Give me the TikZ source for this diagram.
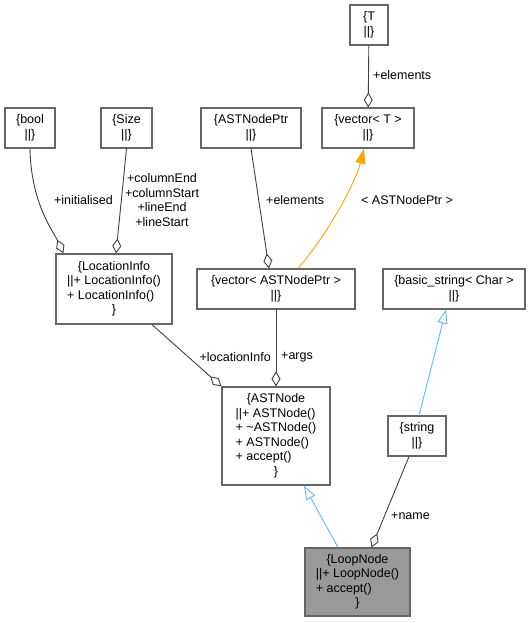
\documentclass[tikz,border=0pt]{standalone}
\usepackage{fontspec}
\setmainfont{Liberation Sans}
\usetikzlibrary{arrows.meta,calc}
\definecolor{boxgray}{HTML}{666666}
\definecolor{edgegray}{HTML}{404040}
\definecolor{inhblue}{HTML}{63B8FF}
\definecolor{tmplorange}{HTML}{FFA500}
\definecolor{mainfill}{HTML}{999999}
\begin{document}
\begin{tikzpicture}[x=1pt,y=-1pt,
  every node/.style={font=\fontsize{12.5}{14.5}\selectfont},
  classbox/.style={draw=boxgray, line width=1.2pt, fill=white, inner sep=0pt, align=center},
  mainbox/.style={classbox, fill=mainfill},
  assoc/.style={draw=edgegray, line width=0.9pt, -{Diamond[fill=white, length=15pt, width=9pt, line width=0.9pt]}},
  inherit/.style={draw=inhblue, line width=0.9pt, -{Triangle[fill=white, length=14pt, width=10pt, line width=0.9pt]}},
  tmpl/.style={draw=tmplorange, line width=0.9pt, -{Triangle[fill=tmplorange, length=15pt, width=10pt]}},
  elabel/.style={inner sep=0pt, text=black}]
\useasboundingbox (0,0) rectangle (531,623);

% class boxes
\node[classbox, minimum width=38pt, minimum height=40pt] (T) at (369,25)
  {\begin{tabular}{@{}c@{}}\{T\\||\}\end{tabular}};
\node[classbox, minimum width=92pt, minimum height=40pt] (vecT) at (368,128)
  {\begin{tabular}{@{}c@{}}\{vector< T >\\||\}\end{tabular}};
\node[classbox, minimum width=50pt, minimum height=40pt] (bool) at (30,128)
  {\begin{tabular}{@{}c@{}}\{bool\\||\}\end{tabular}};
\node[classbox, minimum width=51pt, minimum height=40pt] (size) at (126.5,128)
  {\begin{tabular}{@{}c@{}}\{Size\\||\}\end{tabular}};
\node[classbox, minimum width=100pt, minimum height=40pt] (astptr) at (251,128)
  {\begin{tabular}{@{}c@{}}\{ASTNodePtr\\||\}\end{tabular}};
\node[classbox, minimum width=116pt, minimum height=70pt] (loc) at (114,289)
  {\begin{tabular}{@{}l@{}}\multicolumn{1}{@{}c@{}}{\{LocationInfo}\\||+ LocationInfo()\\+ LocationInfo()\\\multicolumn{1}{@{}c@{}}{\}}\end{tabular}};
\node[classbox, minimum width=158pt, minimum height=40pt] (vecast) at (276,289)
  {\begin{tabular}{@{}c@{}}\{vector< ASTNodePtr >\\||\}\end{tabular}};
\node[classbox, minimum width=142pt, minimum height=40pt] (bstr) at (454,289)
  {\begin{tabular}{@{}c@{}}\{basic\_string< Char >\\||\}\end{tabular}};
\node[classbox, minimum width=108pt, minimum height=98pt] (astnode) at (276,436)
  {\begin{tabular}{@{}l@{}}\multicolumn{1}{@{}c@{}}{\{ASTNode}\\||+ ASTNode()\\+ \textasciitilde ASTNode()\\+ ASTNode()\\+ accept()\\\multicolumn{1}{@{}c@{}}{\}}\end{tabular}};
\node[classbox, minimum width=58pt, minimum height=40pt] (str) at (417,436)
  {\begin{tabular}{@{}c@{}}\{string\\||\}\end{tabular}};
\node[mainbox, minimum width=105pt, minimum height=68pt] (loop) at (357.5,582)
  {\begin{tabular}{@{}l@{}}\multicolumn{1}{@{}c@{}}{\{LoopNode}\\||+ LoopNode()\\+ accept()\\\multicolumn{1}{@{}c@{}}{\}}\end{tabular}};

% connectors
\draw[assoc] (T) -- (vecT);
\draw[assoc] (bool.south) .. controls ($(bool.south)+(1,55)$) and ($(loc.north west)+(-2,-22)$) .. ($(loc.north west)+(8,0)$);
\draw[assoc] (size.south) -- ($(loc.north)+(2,0)$);
\draw[assoc] (astptr.south) -- ($(vecast.north)+(-7,0)$);
\draw[tmpl] ($(vecast.north)+(22,0)$) .. controls ($(vecast.north)+(54,-37)$) and ($(vecT.south)+(-12,32)$) .. ($(vecT.south)+(-4,0)$);
\draw[assoc] ($(loc.south)+(38,0)$) -- (astnode.north west);
\draw[assoc] (vecast) -- (astnode);
\draw[inherit] ($(str.north)+(2,0)$) -- ($(bstr.south)+(-8,0)$);
\draw[inherit] ($(loop.north)+(-19.5,0)$) -- ($(astnode.south)+(28,0)$);
\draw[assoc] ($(str.south)+(-8,0)$) -- ($(loop.north)+(14,0)$);

% labels
\node[elabel, anchor=west] (lT) at (373,75) {+elements};
\node[elabel, anchor=east] (lbool) at (113,200) {+initialised};
\node[elabel, align=center] (lsize) at (162,200) {+columnEnd\\+columnStart\\+lineEnd\\+lineStart};
\node[elabel, anchor=west] (lptr) at (266,200) {+elements};
\node[elabel, anchor=west] (ltmpl) at (361,200) {< ASTNodePtr >};
\node[elabel, anchor=east] (lloc) at (271,357) {+locationInfo};
\node[elabel, anchor=west] (largs) at (281,357) {+args};
\node[elabel, anchor=west] (lname) at (391,516) {+name};
\end{tikzpicture}
\end{document}
